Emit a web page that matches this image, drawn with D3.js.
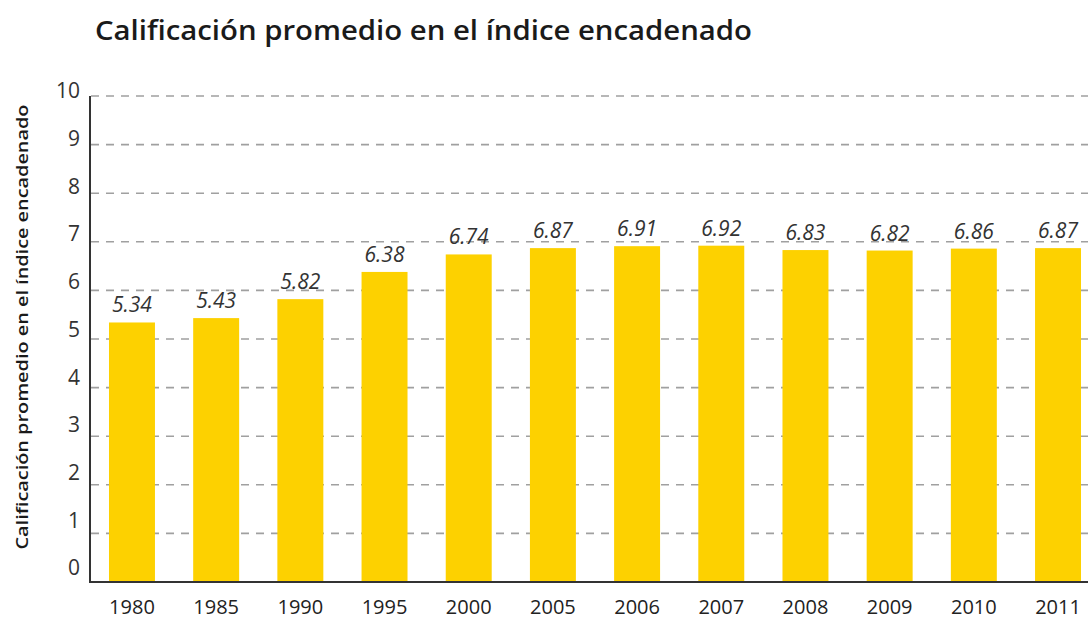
<!DOCTYPE html>
<html><head><meta charset="utf-8">
<script src="https://cdn.jsdelivr.net/npm/d3@7"></script>
<style>body{margin:0;background:#fff}svg{display:block}</style>
</head><body>
<svg id="c" width="1088" height="621"></svg>
<script>
const years = ["1980","1985","1990","1995","2000","2005","2006","2007","2008","2009","2010","2011"];
const values = [5.34,5.43,5.82,6.38,6.74,6.87,6.91,6.92,6.83,6.82,6.86,6.87];
const yTicks = [0,1,2,3,4,5,6,7,8,9,10];
const title = "Calificación promedio en el índice encadenado";
const yTitle = "Calificación promedio en el índice encadenado";

const svg = d3.select("#c");
const font = "'Open Sans', 'Noto Sans', sans-serif";
const x = d3.scaleBand().domain(years).range([90,1100]).paddingInner(0.454).paddingOuter(0.2256);
const y = d3.scaleLinear().domain([0,10]).range([582,96]);
const yLab = d3.scaleLinear().domain([0,10]).range([568,91]);

// title
svg.append("text").attr("x",95).attr("y",40).attr("font-family",font).attr("font-weight",600)
  .attr("font-size",27).attr("fill","#1a1a1a").attr("textLength",657).attr("lengthAdjust","spacingAndGlyphs").text(title);

// y axis title
svg.append("text").attr("transform","translate(28,327) rotate(-90)").attr("text-anchor","middle")
  .attr("font-family",font).attr("font-weight",600).attr("font-size",16.5).attr("fill","#1a1a1a")
  .attr("textLength",445).attr("lengthAdjust","spacingAndGlyphs").text(yTitle);

// grid
svg.append("g").selectAll("line").data(yTicks.filter(d=>d>0)).join("line")
  .attr("x1",91).attr("x2",1088).attr("y1",d=>y(d)).attr("y2",d=>y(d))
  .attr("stroke","#a0a0a0").attr("stroke-width",1.6).attr("stroke-dasharray","8,7");

// y tick labels
svg.append("g").selectAll("text").data(yTicks).join("text")
  .attr("x",80).attr("y",d=>yLab(d)).attr("dy","0.35em").attr("text-anchor","end")
  .attr("font-family",font).attr("font-size",21).attr("fill","#333").text(d=>d);

// bars
svg.append("g").selectAll("rect").data(values).join("rect")
  .attr("x",(d,i)=>x(years[i])).attr("width",x.bandwidth())
  .attr("y",d=>y(d)).attr("height",d=>y(0)-y(d)).attr("fill","#FDD100");

// value labels
svg.append("g").selectAll("text").data(values).join("text")
  .attr("x",(d,i)=>x(years[i])+x.bandwidth()/2).attr("y",d=>y(d)-10).attr("text-anchor","middle")
  .attr("font-family",font).attr("font-style","italic").attr("font-size",21).attr("fill","#333")
  .text(d=>d.toFixed(2));

// axes lines
svg.append("line").attr("x1",90).attr("x2",90).attr("y1",96).attr("y2",583).attr("stroke","#333").attr("stroke-width",2);
svg.append("line").attr("x1",89).attr("x2",1088).attr("y1",582).attr("y2",582).attr("stroke","#333").attr("stroke-width",2);

// x labels
svg.append("g").selectAll("text").data(years).join("text")
  .attr("x",d=>x(d)+x.bandwidth()/2).attr("y",614).attr("text-anchor","middle")
  .attr("font-family",font).attr("font-size",20).attr("fill","#222").text(d=>d);
</script>
</body></html>
